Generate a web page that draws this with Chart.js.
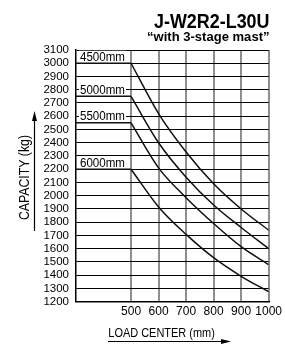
<!DOCTYPE html>
<html>
<head>
<meta charset="utf-8">
<script src="https://cdn.jsdelivr.net/npm/chart.js@4.4.0/dist/chart.umd.min.js"></script>
<style>
  html, body { margin: 0; padding: 0; background: #fff; }
  canvas { display: block; }
</style>
</head>
<body>
<canvas id="grafica" width="285" height="347"></canvas>
<script>
// Datos
var centroCarga = [300, 500, 600, 700, 800, 900, 1000];
var mastiles = ['4500mm', '5000mm', '5500mm', '6000mm'];
var capacidad4500 = [3000, 3000, 2620, 2330, 2090, 1900, 1740];
var capacidad5000 = [2750, 2750, 2400, 2140, 1930, 1760, 1600];
var capacidad5500 = [2550, 2550, 2210, 1985, 1790, 1615, 1480];
var capacidad6000 = [2200, 2200, 1915, 1708, 1532, 1392, 1275];
var ticksX = [500, 600, 700, 800, 900, 1000];
var titulo = 'J-W2R2-L30U';
var subtitulo = '\u201cwith 3-stage mast\u201d';
var tituloEjeY = 'CAPACITY (kg)';
var tituloEjeX = 'LOAD CENTER (mm)';

var fuente = "'Liberation Sans', Arial, sans-serif";
var series = [capacidad4500, capacidad5000, capacidad5500, capacidad6000];

function puntos(valores, desde, hasta) {
  var lista = [];
  for (var i = desde; i <= hasta; i++) {
    lista.push({ x: centroCarga[i], y: valores[i] });
  }
  return lista;
}

var conjuntos = [];
series.forEach(function (valores, i) {
  // tramo plano hasta 500 mm
  conjuntos.push({
    label: mastiles[i],
    data: puntos(valores, 0, 1),
    borderColor: '#111',
    borderWidth: 1.5,
    pointRadius: 0,
    tension: 0
  });
  // tramo curvo de 500 a 1000 mm
  conjuntos.push({
    label: mastiles[i] + ' curva',
    data: puntos(valores, 1, 6),
    borderColor: '#111',
    borderWidth: 1.5,
    pointRadius: 0,
    cubicInterpolationMode: 'monotone'
  });
});

// texto comprimido a un ancho dado (la fuente original es estrecha)
function textoAjustado(ctx, texto, x, y, font, ancho, alinear) {
  ctx.save();
  ctx.font = font;
  var w = ctx.measureText(texto).width;
  ctx.translate(x, y);
  ctx.scale(ancho / w, 1);
  ctx.textAlign = alinear;
  ctx.textBaseline = 'alphabetic';
  ctx.fillStyle = '#000';
  ctx.fillText(texto, 0, 0);
  ctx.restore();
}

function flecha(ctx, x1, y1, x2, y2) {
  var ang = Math.atan2(y2 - y1, x2 - x1);
  var largo = 10, medio = 2.5;
  ctx.save();
  ctx.strokeStyle = '#000';
  ctx.fillStyle = '#000';
  ctx.lineWidth = 1.2;
  ctx.beginPath();
  ctx.moveTo(x1, y1);
  ctx.lineTo(x2 - Math.cos(ang) * largo, y2 - Math.sin(ang) * largo);
  ctx.stroke();
  ctx.translate(x2, y2);
  ctx.rotate(ang);
  ctx.beginPath();
  ctx.moveTo(0, 0);
  ctx.lineTo(-largo, -medio);
  ctx.lineTo(-largo, medio);
  ctx.closePath();
  ctx.fill();
  ctx.restore();
}

var textos = {
  id: 'textos',
  afterDatasetsDraw: function (chart) {
    var ctx = chart.ctx;
    var ejeX = chart.scales.x;
    var ejeY = chart.scales.y;

    // etiquetas de altura de mastil sobre cada tramo plano
    ctx.save();
    mastiles.forEach(function (nombre, i) {
      var px = ejeX.getPixelForValue(centroCarga[0]) + 4;
      var py = ejeY.getPixelForValue(series[i][0]) - 2.5;
      var w = 45;
      ctx.fillStyle = '#fff';
      ctx.fillRect(px - 1, py - 10, w + 2, 10.5);
      textoAjustado(ctx, nombre, px, py, '12px ' + fuente, w, 'left');
    });
    ctx.restore();
  },
  afterDraw: function (chart) {
    var ctx = chart.ctx;
    textoAjustado(ctx, titulo, 269.5, 28.3, 'bold 21px ' + fuente, 115.5, 'right');
    textoAjustado(ctx, subtitulo, 269.5, 40.5, 'bold 13px ' + fuente, 122.5, 'right');
    textoAjustado(ctx, tituloEjeX, 108.3, 336.5, '13px ' + fuente, 106.5, 'left');

    // titulo vertical
    ctx.save();
    ctx.translate(29, 177.5);
    ctx.rotate(-Math.PI / 2);
    textoAjustado(ctx, tituloEjeY, 0, 0, '14px ' + fuente, 85, 'center');
    ctx.restore();

    flecha(ctx, 34.5, 231, 34.5, 111);
    flecha(ctx, 108, 341.5, 231, 341.5);
  }
};

function sinComas(valor) {
  return String(valor);
}

var grafica = new Chart(document.getElementById('grafica'), {
  type: 'line',
  data: { datasets: conjuntos },
  plugins: [textos],
  options: {
    responsive: false,
    animation: false,
    devicePixelRatio: 1,
    layout: { padding: { top: 50, right: 13, left: 0, bottom: 0 } },
    plugins: {
      legend: { display: false },
      tooltip: { enabled: false },
      title: { display: false }
    },
    scales: {
      x: {
        type: 'linear',
        position: 'bottom',
        min: 300,
        max: 1000,
        afterBuildTicks: function (eje) {
          eje.ticks = ticksX.map(function (v) { return { value: v }; });
        },
        afterFit: function (eje) { eje.height = 45.3; },
        grid: { color: '#8f8f8f', lineWidth: 2, drawTicks: false, z: -1 },
        border: { display: true, color: '#000', width: 1.5 },
        ticks: {
          autoSkip: false,
          maxRotation: 0,
          padding: 3,
          color: '#000',
          font: { family: fuente, size: 12 },
          callback: sinComas
        }
      },
      y: {
        type: 'linear',
        min: 1200,
        max: 3100,
        afterFit: function (eje) { eje.width = 76; },
        grid: { color: '#000', lineWidth: 1, drawTicks: false },
        border: { display: true, color: '#000', width: 1.5 },
        ticks: {
          stepSize: 100,
          autoSkip: false,
          padding: 7,
          color: '#000',
          font: { family: fuente, size: 11.5 },
          callback: sinComas
        }
      }
    }
  }
});
</script>
</body>
</html>
